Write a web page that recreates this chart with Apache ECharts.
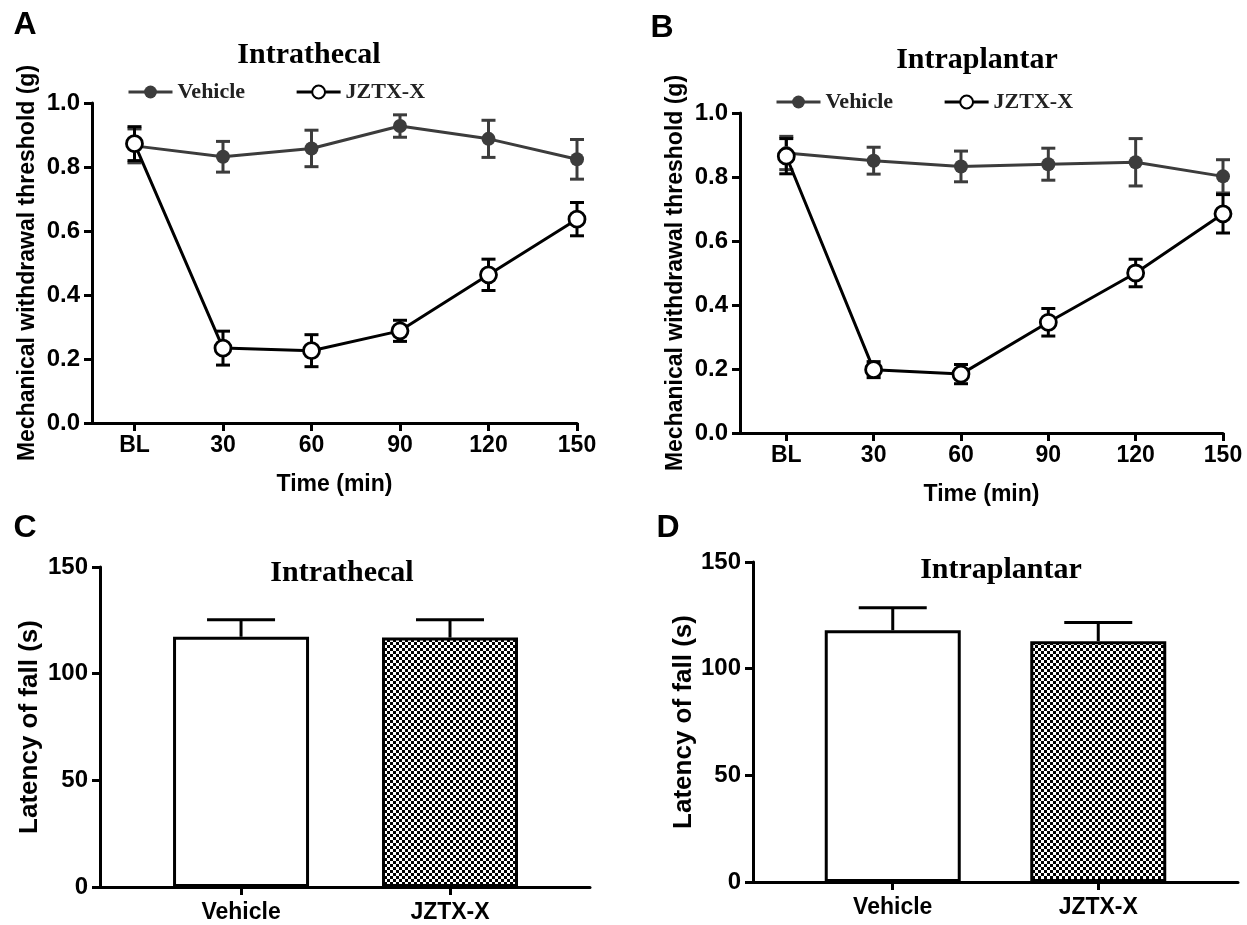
<!DOCTYPE html>
<html>
<head>
<meta charset="utf-8">
<script src="https://cdn.jsdelivr.net/npm/echarts@6/dist/echarts.min.js"></script>
<style>
  html, body { margin: 0; padding: 0; background: #fff; }
  #main { width: 1247px; height: 925px; }
</style>
</head>
<body>
<div id="main"></div>
<script>
// 数据
const timeLabels = ['BL', '30', '60', '90', '120', '150'];
const groups = ['Vehicle', 'JZTX-X'];

// A: Intrathecal
const itVehicle = [0.866, 0.832, 0.858, 0.928, 0.888, 0.824];
const itVehicleErr = [0.053, 0.048, 0.057, 0.035, 0.058, 0.062];
const itJztx = [0.873, 0.234, 0.226, 0.288, 0.463, 0.637];
const itJztxErr = [0.053, 0.053, 0.05, 0.033, 0.049, 0.052];

// B: Intraplantar
const ipVehicle = [0.875, 0.851, 0.833, 0.84, 0.846, 0.802];
const ipVehicleErr = [0.052, 0.042, 0.048, 0.05, 0.074, 0.052];
const ipJztx = [0.865, 0.198, 0.184, 0.346, 0.5, 0.685];
const ipJztxErr = [0.055, 0.025, 0.03, 0.043, 0.043, 0.06];

// C / D: latency of fall
const itLatency = [117.3, 116.9];
const itLatencyErr = [8, 8.4];
const ipLatency = [118.0, 112.9];
const ipLatencyErr = [10.5, 8.7];

const SANS = 'Liberation Sans, Arial, sans-serif';
const SERIF = 'Liberation Serif, Times New Roman, serif';
const GRAY = '#3c3c3c';

// 棋盘格填充
function checker() {
  let c = document.createElement('canvas');
  c.width = 6; c.height = 6;
  let ctx = c.getContext('2d');
  ctx.fillStyle = '#fff';
  ctx.fillRect(0, 0, 6, 6);
  ctx.fillStyle = '#000';
  ctx.fillRect(0, 0, 3, 3);
  ctx.fillRect(3, 3, 3, 3);
  return { image: c, repeat: 'repeat' };
}

function pairs(vals, errs) {
  return vals.map((v, i) => [i, v, errs[i]]);
}

// 误差线
function errBar(gi, vals, errs, color, capHalf, upOnly) {
  return {
    type: 'custom',
    xAxisIndex: gi, yAxisIndex: gi,
    z: 2,
    silent: true,
    data: pairs(vals, errs),
    encode: { x: 0, y: 1 },
    renderItem: function (params, api) {
      let x = api.value(0), y = api.value(1), e = api.value(2);
      let top = api.coord([x, y + e]);
      let bot = api.coord([x, upOnly ? y : y - e]);
      let style = { stroke: color, lineWidth: 3 };
      let kids = [
        { type: 'line', shape: { x1: top[0], y1: top[1], x2: bot[0], y2: bot[1] }, style: style },
        { type: 'line', shape: { x1: top[0] - capHalf, y1: top[1], x2: top[0] + capHalf, y2: top[1] }, style: style }
      ];
      if (!upOnly) {
        kids.push({ type: 'line', shape: { x1: bot[0] - capHalf, y1: bot[1], x2: bot[0] + capHalf, y2: bot[1] }, style: style });
      }
      return { type: 'group', children: kids };
    }
  };
}

function lineSeries(gi, name, vals, filled) {
  return {
    type: 'line',
    name: name,
    xAxisIndex: gi, yAxisIndex: gi,
    z: 3,
    data: vals.map((v, i) => [i, v]),
    symbol: 'circle',
    symbolSize: filled ? 14 : 16,
    lineStyle: { color: filled ? GRAY : '#000', width: 3 },
    itemStyle: filled ? { color: GRAY } : { color: '#fff', borderColor: '#000', borderWidth: 2.8 },
    emphasis: { disabled: true }
  };
}

function barSeries(gi, vals) {
  return {
    type: 'bar',
    xAxisIndex: gi, yAxisIndex: gi,
    z: 3,
    barWidth: 136,
    data: [
      { value: [0, vals[0]], itemStyle: { color: '#fff' } },
      { value: [1, vals[1]], itemStyle: { color: checker() } }
    ],
    itemStyle: { borderColor: '#000', borderWidth: 3 },
    emphasis: { disabled: true }
  };
}

const axisLine = { show: true, onZero: false, lineStyle: { color: '#000', width: 3 } };
const axisTick = { show: true, length: 8, lineStyle: { color: '#000', width: 3 } };

function xAxisTime(gi, min) {
  return {
    type: 'value', gridIndex: gi, min: min, max: 5,
    name: 'Time (min)', nameLocation: 'middle', nameGap: 50,
    nameTextStyle: { fontFamily: SANS, fontWeight: 'bold', fontSize: 23, color: '#000' },
    axisLine: axisLine,
    axisTick: Object.assign({ customValues: [0, 1, 2, 3, 4, 5] }, axisTick),
    axisLabel: {
      customValues: [0, 1, 2, 3, 4, 5],
      formatter: v => timeLabels[v],
      margin: 11, fontFamily: SANS, fontWeight: 'bold', fontSize: 23, color: '#000'
    },
    splitLine: { show: false }
  };
}

function yAxisThreshold(gi) {
  return {
    type: 'value', gridIndex: gi, min: 0, max: 1, interval: 0.2,
    name: 'Mechanical withdrawal threshold (g)', nameLocation: 'middle', nameGap: 53,
    nameTextStyle: { fontFamily: SANS, fontWeight: 'bold', fontSize: 23, color: '#000' },
    axisLine: axisLine, axisTick: axisTick,
    axisLabel: { formatter: v => v.toFixed(1), margin: 12, fontFamily: SANS, fontWeight: 'bold', fontSize: 24, color: '#000' },
    splitLine: { show: false }
  };
}

function xAxisGroup(gi, min, max) {
  return {
    type: 'value', gridIndex: gi, min: min, max: max,
    axisLine: axisLine,
    axisTick: Object.assign({ customValues: [0, 1] }, axisTick),
    axisLabel: {
      customValues: [0, 1],
      formatter: v => groups[v],
      margin: 14, fontFamily: SANS, fontWeight: 'bold', fontSize: 23, color: '#000'
    },
    splitLine: { show: false }
  };
}

function yAxisLatency(gi, gap) {
  return {
    type: 'value', gridIndex: gi, min: 0, max: 150, interval: 50,
    name: 'Latency of fall (s)', nameLocation: 'middle', nameGap: gap,
    nameTextStyle: { fontFamily: SANS, fontWeight: 'bold', fontSize: 26, color: '#000' },
    axisLine: axisLine, axisTick: axisTick,
    axisLabel: { margin: 12, fontFamily: SANS, fontWeight: 'bold', fontSize: 24, color: '#000' },
    splitLine: { show: false }
  };
}

function legendAt(left, top) {
  return {
    left: left, top: top,
    data: groups,
    itemWidth: 44, itemHeight: 16, itemGap: 50,
    selectedMode: false,
    lineStyle: { width: 3 },
    textStyle: { fontFamily: SERIF, fontWeight: 'bold', fontSize: 22, color: '#222' }
  };
}

function label(text, x, y, font, size) {
  return {
    type: 'text', x: x, y: y,
    style: { text: text, fontFamily: font, fontWeight: 'bold', fontSize: size, fill: '#000', textAlign: 'center', textVerticalAlign: 'middle' }
  };
}

let chart = echarts.init(document.getElementById('main'));
let option = {
  animation: false,
  backgroundColor: '#fff',
  grid: [
    { left: 92, top: 103, width: 485, height: 320 },
    { left: 740, top: 113, width: 483, height: 320 },
    { left: 100, top: 567, width: 490, height: 320 },
    { left: 753, top: 562, width: 485, height: 320 }
  ],
  xAxis: [xAxisTime(0, -0.48), xAxisTime(1, -0.53), xAxisGroup(2, -0.675, 1.67), xAxisGroup(3, -0.68, 1.68)],
  yAxis: [yAxisThreshold(0), yAxisThreshold(1), yAxisLatency(2, 57), yAxisLatency(3, 56)],
  legend: [legendAt(122, 76), legendAt(770, 86)],
  graphic: [
    label('A', 25, 25, SANS, 32),
    label('Intrathecal', 309, 55, SERIF, 30),
    label('B', 662, 28, SANS, 32),
    label('Intraplantar', 977, 60, SERIF, 30),
    label('C', 25, 528, SANS, 32),
    label('Intrathecal', 342, 573, SERIF, 30),
    label('D', 668, 528, SANS, 32),
    label('Intraplantar', 1001, 570, SERIF, 30)
  ],
  series: [
    errBar(0, itVehicle, itVehicleErr, GRAY, 7, false),
    errBar(0, itJztx, itJztxErr, '#000', 7, false),
    lineSeries(0, 'Vehicle', itVehicle, true),
    lineSeries(0, 'JZTX-X', itJztx, false),
    errBar(1, ipVehicle, ipVehicleErr, GRAY, 7, false),
    errBar(1, ipJztx, ipJztxErr, '#000', 7, false),
    lineSeries(1, 'Vehicle', ipVehicle, true),
    lineSeries(1, 'JZTX-X', ipJztx, false),
    errBar(2, itLatency, itLatencyErr, '#000', 34, true),
    barSeries(2, itLatency),
    errBar(3, ipLatency, ipLatencyErr, '#000', 34, true),
    barSeries(3, ipLatency)
  ]
};
option && chart.setOption(option);
</script>
</body>
</html>
